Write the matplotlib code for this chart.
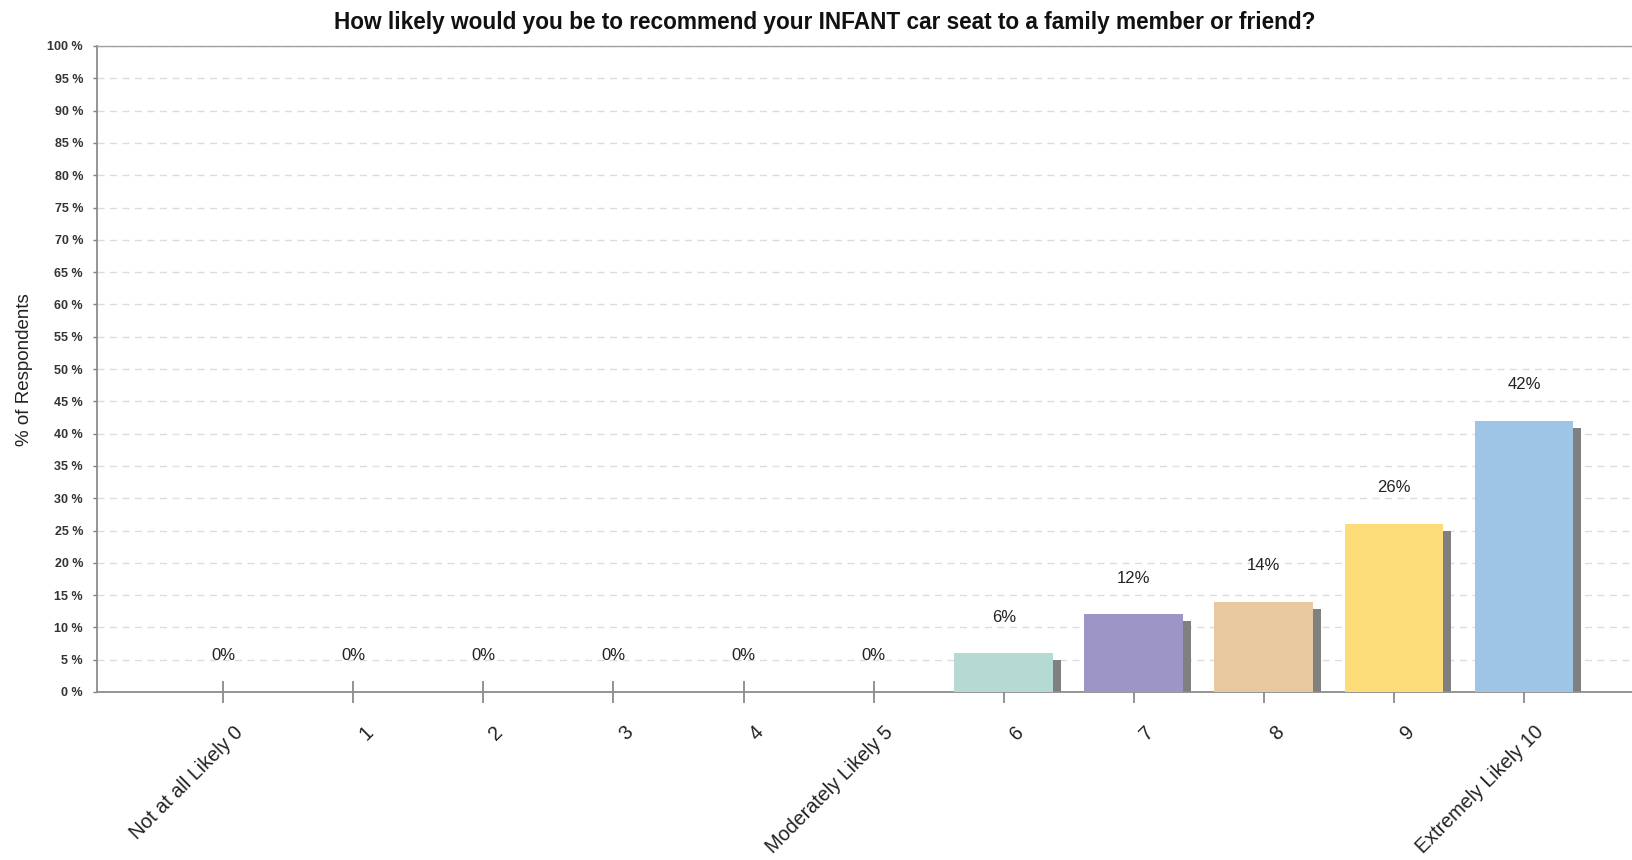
import matplotlib
matplotlib.use("Agg")
from matplotlib import pyplot as plt
from matplotlib.transforms import ScaledTranslation

# data
categories = ["Not at all Likely 0", "1", "2", "3", "4", "Moderately Likely 5",
              "6", "7", "8", "9", "Extremely Likely 10"]
percents = [0, 0, 0, 0, 0, 0, 6, 12, 14, 26, 42]
bar_colors = ["#b5d9d3", "#b5d9d3", "#b5d9d3", "#b5d9d3", "#b5d9d3", "#b5d9d3",
              "#b5d9d3", "#9c95c5", "#e8c99f", "#fddc7a", "#9fc5e6"]
y_ticks = list(range(0, 101, 5))
title = "How likely would you be to recommend your INFANT car seat to a family member or friend?"

plt.rcParams['font.family'] = ['Liberation Sans', 'DejaVu Sans']

fig = plt.figure(figsize=(16.32, 8.6), dpi=100)
ax = fig.add_axes([97 / 1632, 1 - 692 / 860, 1 - 97 / 1632, (692 - 46) / 860])

x = list(range(len(categories)))
width = 0.76
# drop shadow: same bar shifted right and down
sx = 8 / 130
sy = 7 / 6.46
shadow_h = [max(p - sy, 0) if p > 0 else 0 for p in percents]
ax.bar([i + sx for i in x], shadow_h, width=width, color="#808080", zorder=2)
ax.bar(x, percents, width=width, color=bar_colors, zorder=3)

for i, p in zip(x, percents):
    ax.annotate(f"{p}%", (i, p), xytext=(0, 26), textcoords="offset points",
                ha="center", va="center", fontsize=12, color="#222222")

ax.set_xlim(-0.97, 10.83)
ax.set_ylim(0, 100)
ax.set_yticks(y_ticks)
ax.set_yticklabels([f"{t} %" for t in y_ticks], fontsize=9, fontweight="bold",
                   color="#333333")
ax.tick_params(axis="x", direction="inout", length=16, width=1.2, color="#808080", pad=19)
ax.tick_params(axis="y", direction="out", length=3, width=1, color="#808080", pad=7)
ax.set_xticks(x)
ax.set_xticklabels(categories, rotation=45, ha="right", va="top",
                   rotation_mode="anchor", fontsize=14.2, color="#222222")
# nudge the rotated labels right/up (after tick_params, which resets transforms)
shift = ScaledTranslation(10 / 100, 7 / 100, fig.dpi_scale_trans)
for lbl in ax.get_xticklabels():
    lbl.set_transform(lbl.get_transform() + shift)

ax.yaxis.grid(True, linestyle=(0, (5, 4)), color="#dcdcdc", linewidth=1.0, zorder=0)
ax.set_axisbelow(True)

for side in ["left", "bottom", "top"]:
    ax.spines[side].set_color("#8c8c8c")
    ax.spines[side].set_linewidth(1.3)
ax.spines["top"].set_linewidth(1.0)
ax.spines["top"].set_color("#a0a0a0")
ax.spines["right"].set_visible(False)

ax.set_ylabel("% of Respondents", fontsize=13.5, color="#222222")
ax.yaxis.set_label_coords(-(97 - 33) / 1535, 1 - (370 - 46) / 646)
fig.text(825 / 1632, 1 - 23 / 860, title, ha="center", va="center", fontsize=16.3,
         fontweight="bold", color="#111111")

fig.savefig("out.png", dpi=100)
